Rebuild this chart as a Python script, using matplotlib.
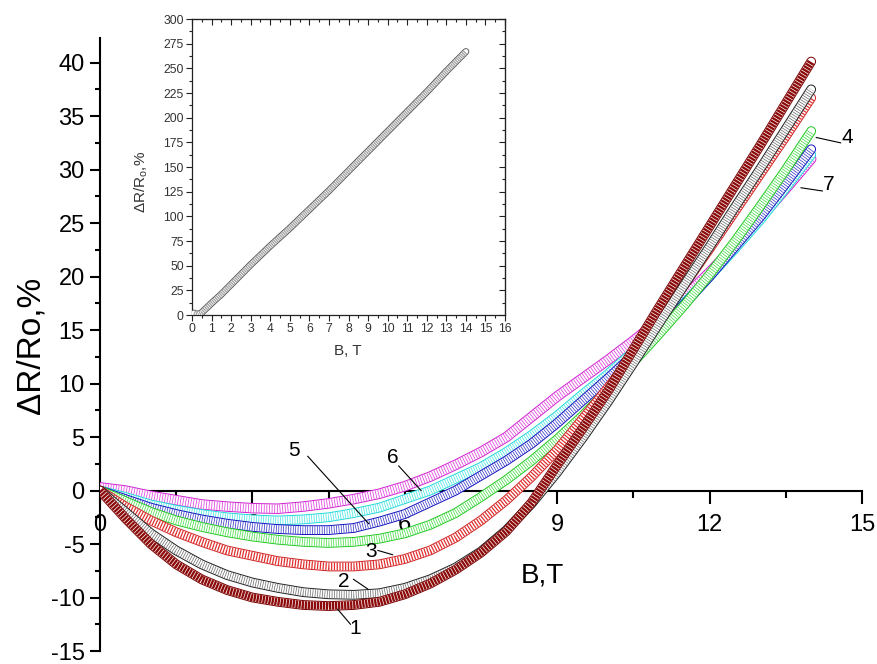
import matplotlib
matplotlib.use("Agg")
import matplotlib.pyplot as plt
from matplotlib.ticker import MultipleLocator

plt.rcParams.update({
    "font.family": "Liberation Sans",
    "mathtext.fontset": "custom",
    "mathtext.rm": "Liberation Sans",
    "mathtext.it": "Liberation Sans:italic",
    "axes.unicode_minus": False,
})

# field, T
B = [0.0, 0.5, 1.0, 1.5, 2.0, 2.5, 3.0, 3.5, 4.0, 4.5, 5.0, 5.5, 6.0, 6.5,
     7.0, 7.5, 8.0, 8.5, 9.0, 9.5, 10.0, 10.5, 11.0, 11.5, 12.0, 12.5,
     13.0, 13.5, 14.0]

# magnetoresistance dR/Ro, % for samples 1..7
mr1 = [0.0, -2.6, -5.0, -6.9, -8.3, -9.3, -10.0, -10.4, -10.7, -10.8, -10.7,
       -10.4, -9.7, -8.7, -7.4, -5.8, -3.8, -1.1, 2.4, 5.8, 9.3, 13.2, 17.1,
       20.9, 24.7, 28.5, 32.3, 36.2, 40.1]
mr2 = [0.0, -2.0, -4.0, -5.6, -6.9, -7.9, -8.6, -9.1, -9.5, -9.7, -9.75,
       -9.6, -9.1, -8.3, -7.2, -5.7, -3.7, -1.2, 1.7, 4.9, 8.3, 11.9, 15.6,
       19.2, 22.8, 26.5, 30.1, 33.8, 37.5]
mr3 = [0.0, -1.5, -2.8, -3.9, -4.8, -5.6, -6.1, -6.6, -6.9, -7.1, -7.1,
       -6.9, -6.4, -5.6, -4.4, -2.8, -0.9, 1.3, 3.8, 6.7, 9.6, 12.7, 15.9,
       19.2, 22.6, 26.1, 29.6, 33.1, 36.7]
mr4 = [0.0, -1.0, -2.0, -2.8, -3.4, -3.9, -4.3, -4.6, -4.8, -4.9, -4.8,
       -4.5, -4.0, -3.2, -2.1, -0.6, 1.0, 2.8, 4.8, 7.0, 9.4, 12.0, 14.6,
       17.3, 20.2, 23.3, 26.6, 30.0, 33.6]
mr5 = [0.0, -0.8, -1.6, -2.2, -2.7, -3.1, -3.4, -3.6, -3.7, -3.7, -3.5,
       -2.9, -2.2, -1.1, 0.0, 1.4, 2.8, 4.4, 6.3, 8.4, 10.5, 12.7, 15.0,
       17.4, 20.0, 22.8, 25.6, 28.7, 31.9]
mr6 = [0.0, -0.6, -1.3, -1.8, -2.2, -2.5, -2.7, -2.8, -2.7, -2.5, -2.1,
       -1.6, -0.8, 0.0, 1.1, 2.2, 3.6, 5.2, 7.0, 9.0, 10.9, 13.0, 15.2,
       17.5, 20.0, 22.6, 25.3, 28.3, 31.4]
mr7 = [0.3, 0.0, -0.5, -0.9, -1.3, -1.5, -1.65, -1.7, -1.5, -1.2, -0.8,
       -0.3, 0.4, 1.3, 2.4, 3.6, 5.0, 6.9, 8.8, 10.5, 12.2, 14.0, 15.9,
       18.1, 20.4, 22.9, 25.5, 28.2, 31.0]

# inset: single sample up to 14 T
B_in = [0.1, 0.3, 0.5, 1.0, 1.5, 2.0, 3.0, 4.0, 5.0, 6.0, 7.0, 8.0, 9.0,
        10.0, 11.0, 12.0, 13.0, 14.0]
mr_in = [2.0, 0.5, 2.5, 12.0, 21.0, 31.0, 51.0, 70.0, 88.0, 107.0, 126.0,
         146.0, 166.0, 186.0, 206.0, 226.0, 247.0, 267.0]


def band(ax, x, y, edge, stripe, width, z, dash=(0.09, 0.22)):
    """Thick outlined track with cross stripes, like a run of open symbols."""
    ax.plot(x, y, color=edge, lw=width, solid_joinstyle="round",
            solid_capstyle="round", zorder=z)
    ax.plot(x, y, color="white", lw=width - 1.4, solid_joinstyle="round",
            solid_capstyle="round", zorder=z)
    ax.plot(x, y, color=stripe, lw=width - 1.4, ls=(0, dash),
            dash_capstyle="butt", zorder=z)


fig = plt.figure(figsize=(8.77, 6.64), dpi=100)
ax = fig.add_axes([100 / 877, 13 / 664, 762 / 877, 613 / 664])

# draw order: 7 at the bottom, 1 on top
band(ax, B, mr7, "#d020d0", "#e040e0", 7.5, 3)
band(ax, B, mr6, "#20d8d8", "#40e4e4", 7.0, 3.1)
band(ax, B, mr5, "#1010c0", "#3030c8", 7.0, 3.2)
band(ax, B, mr4, "#20c820", "#40dc40", 7.0, 3.3)
band(ax, B, mr3, "#d02020", "#e03030", 7.0, 3.4, dash=(0.16, 0.2))
band(ax, B, mr2, "#202020", "#6a6a6a", 7.0, 3.5)
band(ax, B, mr1, "#780000", "#8c0a0a", 7.0, 3.6, dash=(0.3, 0.09))

ax.set_xlim(0, 15)
ax.set_ylim(-15, 42.3)
for s in ("top", "right"):
    ax.spines[s].set_visible(False)
ax.spines["bottom"].set_position(("data", 0))
ax.spines["bottom"].set_linewidth(1.5)
ax.spines["left"].set_linewidth(1.5)
ax.xaxis.set_major_locator(MultipleLocator(3))
ax.xaxis.set_minor_locator(MultipleLocator(1.5))
ax.yaxis.set_major_locator(MultipleLocator(5))
ax.yaxis.set_minor_locator(MultipleLocator(2.5))
ax.tick_params(which="both", direction="out", width=1.5, labelsize=17)
ax.tick_params(axis="x", which="major", length=9, pad=8)
ax.tick_params(axis="x", which="minor", length=5)
ax.tick_params(axis="y", which="major", length=7, pad=4)
ax.tick_params(axis="y", which="minor", length=3.6)
ax.set_xticks([0, 3, 6, 9, 12, 15])
ax.set_xticklabels(["0", "3", "6", "9", "12", "15"])

fig.text(542 / 877, 1 - 575 / 664, "B,T", fontsize=20, ha="center",
         va="center")
fig.text(31 / 877, 1 - 345 / 664, "\u0394R/Ro,%", fontsize=24, ha="center",
         va="center", rotation=90)

# curve numbers with leader lines
labels = [
    ("1", (5.03, -12.9), (4.93, -12.5), (4.68, -11.1)),
    ("2", (4.80, -8.5), (4.99, -8.3), (5.27, -9.2)),
    ("3", (5.33, -5.7), (5.47, -5.6), (5.76, -6.0)),
    ("5", (3.81, 3.7), (4.09, 3.2), (5.29, -3.1)),
    ("6", (5.76, 3.1), (5.88, 2.3), (6.32, 0.0)),
    ("4", (14.72, 33.0), (14.58, 32.5), (14.10, 33.0)),
    ("7", (14.35, 28.6), (14.22, 28.0), (13.80, 28.3)),
]
for txt, pos, p0, p1 in labels:
    ax.text(pos[0], pos[1], txt, fontsize=15, ha="center", va="center",
            zorder=5)
    ax.plot([p0[0], p1[0]], [p0[1], p1[1]], color="black", lw=0.8, zorder=5)

# inset
ai = fig.add_axes([192 / 877, 1 - 315 / 664, 313 / 877, 296 / 664])
band(ai, B_in, mr_in, "#5a5a5a", "#a0a0a0", 5.0, 3, dash=(0.25, 0.15))
ai.set_xlim(0, 16)
ai.set_ylim(0, 300)
for s in ai.spines.values():
    s.set_linewidth(0.9)
    s.set_color("#222222")
ai.xaxis.set_major_locator(MultipleLocator(1))
ai.xaxis.set_minor_locator(MultipleLocator(0.5))
ai.yaxis.set_major_locator(MultipleLocator(25))
ai.yaxis.set_minor_locator(MultipleLocator(12.5))
ai.tick_params(which="both", direction="out", width=0.8, labelsize=8.7,
               labelcolor="#333333", color="#222222", pad=2)
ai.tick_params(which="major", length=4)
ai.tick_params(which="minor", length=2.2)

top = ai.secondary_xaxis("top")
top.xaxis.set_major_locator(MultipleLocator(1))
top.xaxis.set_minor_locator(MultipleLocator(0.5))
top.tick_params(which="both", direction="in", labeltop=False, width=0.8,
                color="#222222")
top.tick_params(which="major", length=4)
top.tick_params(which="minor", length=2.2)
right = ai.secondary_yaxis("right")
right.yaxis.set_major_locator(MultipleLocator(25))
right.yaxis.set_minor_locator(MultipleLocator(12.5))
right.tick_params(which="both", direction="in", labelright=False, width=0.8,
                  color="#222222")
right.tick_params(which="major", length=4)
right.tick_params(which="minor", length=2.2)

ai.set_xlabel("B, T", fontsize=11, color="#333333")
ai.xaxis.set_label_coords(156 / 313, -29 / 296)
ai.set_ylabel("\u0394R/R$_\\mathrm{o}$,%", fontsize=11, color="#333333")
ai.yaxis.set_label_coords(-42 / 313, 133 / 296)

fig.savefig("out.png", dpi=100)
